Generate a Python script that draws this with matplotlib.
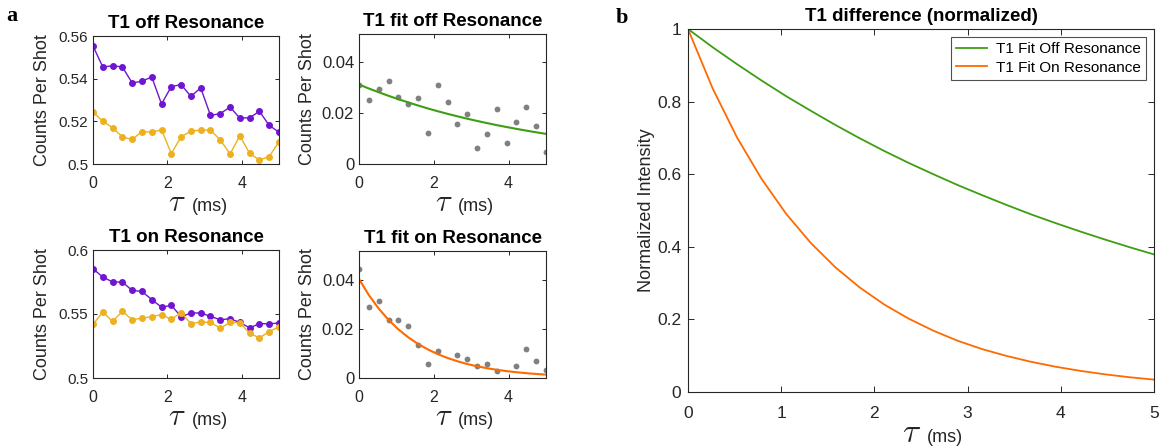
import numpy as np
import matplotlib
matplotlib.use('Agg')
import matplotlib.pyplot as plt
from matplotlib.ticker import FuncFormatter

plt.rcParams['font.family'] = ['Liberation Sans', 'DejaVu Sans']
plt.rcParams['mathtext.fontset'] = 'cm'

# delay times (ms), 20 points
tau = np.linspace(0, 5, 20)

# T1 off resonance raw counts
off_purple = [0.5553, 0.5455, 0.5460, 0.5455, 0.5380, 0.5388, 0.5408, 0.5281, 0.5363, 0.5372,
              0.5317, 0.5357, 0.5228, 0.5236, 0.5267, 0.5215, 0.5217, 0.5247, 0.5181, 0.5149]
off_yellow = [0.5243, 0.5201, 0.5170, 0.5127, 0.5115, 0.5152, 0.5149, 0.5160, 0.5049, 0.5127,
              0.5154, 0.5159, 0.5159, 0.5113, 0.5047, 0.5132, 0.5050, 0.5019, 0.5035, 0.5104]

# T1 on resonance raw counts
on_purple = [0.5853, 0.5789, 0.5750, 0.5750, 0.5684, 0.5676, 0.5613, 0.5553, 0.5568, 0.5479,
             0.5508, 0.5508, 0.5482, 0.5455, 0.5463, 0.5434, 0.5392, 0.5424, 0.5424, 0.5429]
on_yellow = [0.5418, 0.5516, 0.5442, 0.5521, 0.5455, 0.5468, 0.5479, 0.5495, 0.5458, 0.5511,
             0.5424, 0.5437, 0.5434, 0.5389, 0.5434, 0.5432, 0.5350, 0.5313, 0.5363, 0.5400]

# differences used for the fits
off_diff = [0.0311, 0.0252, 0.0294, 0.0327, 0.0265, 0.0237, 0.0260, 0.0122, 0.0310, 0.0245,
            0.0159, 0.0197, 0.0064, 0.0118, 0.0218, 0.0083, 0.0167, 0.0224, 0.0148, 0.0046]
on_diff = [0.0445, 0.0288, 0.0316, 0.0235, 0.0235, 0.0211, 0.0136, 0.0059, 0.0112, np.nan,
           0.0095, 0.0078, 0.0050, 0.0059, 0.0027, np.nan, 0.0048, 0.0117, 0.0069, 0.0033]

# normalized fit curves
fit_off_norm = [1, 0.950, 0.903, 0.858, 0.815, 0.775, 0.736, 0.699, 0.664, 0.631,
                0.600, 0.570, 0.542, 0.515, 0.489, 0.465, 0.442, 0.420, 0.399, 0.379]
fit_on_norm = [1, 0.837, 0.701, 0.587, 0.491, 0.411, 0.344, 0.288, 0.241, 0.202,
               0.169, 0.141, 0.118, 0.0991, 0.0830, 0.0695, 0.0582, 0.0487, 0.0407, 0.0341]
amp_off = 0.0313
amp_on = 0.0404

PURPLE = '#7015D1'
YELLOW = '#EDB120'
GREEN = '#3E9E12'
ORANGE = '#FF6A00'
GRAY = '#808080'
EDGE = '#262626'

W, H = 1163, 447
fig = plt.figure(figsize=(W / 100, H / 100), dpi=100)


def px_axes(x0, y0, x1, y1):
    return fig.add_axes([x0 / W, 1 - y1 / H, (x1 - x0) / W, (y1 - y0) / H])


fmt = FuncFormatter(lambda v, p: '%g' % round(v, 6))


def style(ax, ysize=11, xsize=11.5, ticklen=3, xpad=8.5, ypad=3.5):
    for s in ax.spines.values():
        s.set_color(EDGE)
        s.set_linewidth(0.8)
    ax.tick_params(direction='in', top=True, right=True, length=ticklen, width=0.7,
                   colors=EDGE, labelcolor='#262626')
    ax.tick_params(axis='x', labelsize=xsize, pad=xpad)
    ax.tick_params(axis='y', labelsize=ysize, pad=ypad)
    ax.xaxis.set_major_formatter(fmt)
    ax.yaxis.set_major_formatter(fmt)


def tau_label(ax, dy, tsize=22, msize=13):
    ax.annotate(r'$\tau$', xy=(0.5, 0), xycoords='axes fraction', xytext=(0, dy),
                textcoords='offset points', ha='right', va='baseline', fontsize=tsize, color='#262626')
    ax.annotate('(ms)', xy=(0.5, 0), xycoords='axes fraction', xytext=(4, dy),
                textcoords='offset points', ha='left', va='baseline', fontsize=msize, color='#262626')


def small_panel(ax, title, yticks, ylim, ylab_x, ysize):
    style(ax, ysize=ysize)
    ax.set_xlim(0, 5)
    ax.set_ylim(*ylim)
    ax.set_xticks([0, 2, 4])
    ax.set_yticks(yticks)
    ax.set_title(title, fontsize=13.5, fontweight='bold', pad=6)
    ax.set_ylabel('Counts Per Shot', fontsize=13, color='#262626')
    ax.yaxis.set_label_coords(ylab_x, 0.5)
    tau_label(ax, -34)


ax1 = px_axes(93, 36, 279, 164)
ax1.plot(tau, off_purple, '-o', color=PURPLE, lw=1.0, ms=4)
ax1.plot(tau, off_yellow, '-o', color=YELLOW, lw=1.0, ms=4)
small_panel(ax1, 'T1 off Resonance', [0.5, 0.52, 0.54, 0.56], (0.5, 0.56), -0.225, 11)

ax2 = px_axes(359, 34, 546, 164)
ax2.plot(tau, off_diff, 'o', color=GRAY, ms=4.2, mec='none')
ax2.plot(tau, amp_off * np.array(fit_off_norm), '-', color=GREEN, lw=1.5)
small_panel(ax2, 'T1 fit off Resonance', [0, 0.02, 0.04], (0, 0.0512), -0.23, 12)

ax3 = px_axes(93, 250, 279, 378)
ax3.plot(tau, on_purple, '-o', color=PURPLE, lw=1.0, ms=4)
ax3.plot(tau, on_yellow, '-o', color=YELLOW, lw=1.0, ms=4)
small_panel(ax3, 'T1 on Resonance', [0.5, 0.55, 0.6], (0.5, 0.6), -0.225, 11)

ax4 = px_axes(359, 251, 546, 378)
ax4.plot(tau, on_diff, 'o', color=GRAY, ms=4.2, mec='none')
ax4.plot(tau, amp_on * np.array(fit_on_norm), '-', color=ORANGE, lw=1.5)
small_panel(ax4, 'T1 fit on Resonance', [0, 0.02, 0.04], (0, 0.0518), -0.23, 12)

# panel b
axb = px_axes(688, 29, 1154, 392)
axb.plot(tau, fit_off_norm, '-', color=GREEN, lw=1.3, label='T1 Fit Off Resonance')
axb.plot(tau, fit_on_norm, '-', color=ORANGE, lw=1.3, label='T1 Fit On Resonance')
style(axb, ysize=12.5, xsize=12.5, ticklen=4, xpad=10, ypad=5)
axb.set_xlim(0, 5)
axb.set_ylim(0, 1)
axb.set_xticks(range(6))
axb.set_yticks([0, 0.2, 0.4, 0.6, 0.8, 1])
axb.set_title('T1 difference (normalized)', fontsize=13.5, fontweight='bold', pad=6)
axb.set_ylabel('Normalized Intensity', fontsize=13, color='#262626')
axb.yaxis.set_label_coords(-0.071, 0.5)
tau_label(axb, -36, tsize=24, msize=13)
leg = axb.legend(loc='upper right', fontsize=11, frameon=True, fancybox=False,
                 handlelength=2.0, borderpad=0.35, labelspacing=0.3, borderaxespad=0.5,
                 handletextpad=0.6)
leg.get_frame().set_edgecolor(EDGE)
leg.get_frame().set_linewidth(0.8)

fig.text(6 / W, 1 - 21 / H, 'a', fontsize=16, fontweight='bold', family='Liberation Serif')
fig.text(616 / W, 1 - 23 / H, 'b', fontsize=16, fontweight='bold', family='Liberation Serif')

fig.savefig('out.png', dpi=100)
